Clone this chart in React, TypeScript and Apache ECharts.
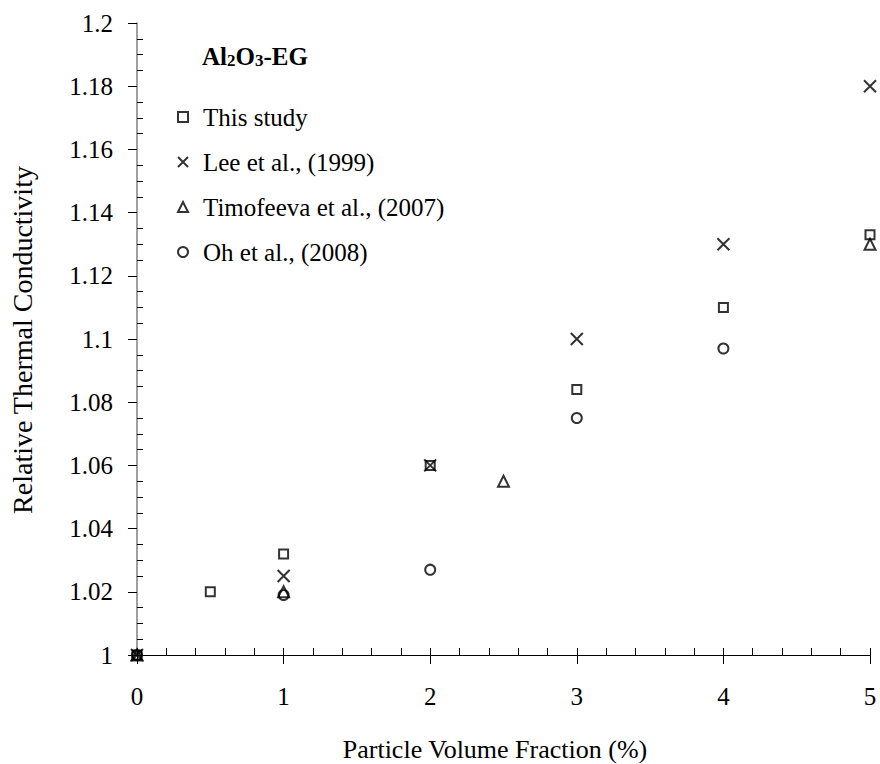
import React, { useEffect, useRef } from "react";
import * as echarts from "echarts";

const FONT = "Liberation Serif, serif";

const thisStudy: [number, number][] = [[0, 1], [0.5, 1.02], [1, 1.032], [2, 1.06], [3, 1.084], [4, 1.11], [5, 1.133]];
const lee1999: [number, number][] = [[0, 1], [1, 1.025], [2, 1.06], [3, 1.1], [4, 1.13], [5, 1.18]];
const timofeeva2007: [number, number][] = [[0, 1], [1, 1.02], [2.5, 1.055], [5, 1.13]];
const oh2008: [number, number][] = [[0, 1], [1, 1.019], [2, 1.027], [3, 1.075], [4, 1.097]];

const seriesNames = ["This study", "Lee et al., (1999)", "Timofeeva et al., (2007)", "Oh et al., (2008)"];
const X_PATH = "path://M0,0L10,10M10,0L0,10";

export default function App() {
  const ref = useRef<HTMLDivElement>(null);
  useEffect(() => {
    if (!ref.current) return;
    const chart = echarts.init(ref.current, undefined, { renderer: "svg" });
    const markerStyle = { color: "rgba(0,0,0,0)", borderColor: "#000", borderWidth: 2 };
    chart.setOption({
      animation: false,
      backgroundColor: "#fff",
      textStyle: { fontFamily: FONT },
      grid: { left: 137, right: 10, top: 23, bottom: 109 },
      title: {
        left: 197,
        top: 38,
        text: "{b|Al}{s|2}{b|O}{s|3}{b|-EG}",
        textStyle: {
          rich: {
            b: { fontFamily: FONT, fontWeight: "bold", fontSize: 25, color: "#000", lineHeight: 26, verticalAlign: "bottom" },
            s: { fontFamily: FONT, fontWeight: "bold", fontSize: 17, color: "#000", lineHeight: 12, verticalAlign: "bottom" },
          },
        },
      },
      legend: {
        orient: "vertical",
        left: 172,
        top: 99,
        itemWidth: 10,
        itemHeight: 10,
        itemGap: 19,
        data: [
          { name: seriesNames[0], icon: "rect" },
          { name: seriesNames[1], icon: X_PATH },
          { name: seriesNames[2], icon: "triangle" },
          { name: seriesNames[3], icon: "circle" },
        ],
        textStyle: { fontFamily: FONT, fontSize: 25, color: "#000", lineHeight: 26, padding: [0, 0, 0, 10] },
      },
      xAxis: [
        {
          type: "value", min: 0, max: 5, interval: 1, position: "bottom",
          axisLine: { show: true, onZero: false, lineStyle: { color: "#000", width: 1 } },
          axisTick: { show: true, inside: false, length: 9, lineStyle: { color: "#000" } },
          minorTick: { show: false },
          splitLine: { show: false },
          axisLabel: { margin: 29, fontFamily: FONT, fontSize: 25, color: "#000" },
        },
        {
          type: "value", min: 0, max: 5, interval: 1, position: "bottom",
          axisLine: { show: false, onZero: false },
          axisTick: { show: true, inside: true, length: 7, lineStyle: { color: "#000" } },
          minorTick: { show: true, splitNumber: 5, length: 7, lineStyle: { color: "#000" } },
          splitLine: { show: false },
          axisLabel: { show: false },
        },
      ],
      yAxis: [
        {
          type: "value", min: 1, max: 1.2, interval: 0.02, position: "left",
          axisLine: { show: true, onZero: false, lineStyle: { color: "#808080", width: 1.5 } },
          axisTick: { show: true, inside: false, length: 9, lineStyle: { color: "#000" } },
          minorTick: { show: false },
          splitLine: { show: false },
          axisLabel: {
            margin: 24, fontFamily: FONT, fontSize: 25, color: "#000",
            formatter: (v: number) => String(+v.toFixed(2)),
          },
        },
        {
          type: "value", min: 1, max: 1.2, interval: 0.02, position: "left",
          axisLine: { show: false, onZero: false },
          axisTick: { show: false, inside: true, length: 6 },
          minorTick: { show: true, splitNumber: 4, length: 6, lineStyle: { color: "#000" } },
          splitLine: { show: false },
          axisLabel: { show: false },
        },
      ],
      graphic: [
        {
          type: "text", x: 495, y: 749,
          style: { text: "Particle Volume Fraction (%)", fontFamily: FONT, fontSize: 26, fill: "#000", align: "center", verticalAlign: "middle" },
        },
        {
          type: "text", x: 22, y: 340, rotation: Math.PI / 2,
          style: { text: "Relative Thermal Conductivity", fontFamily: FONT, fontSize: 28, fill: "#000", align: "center", verticalAlign: "middle" },
        },
      ],
      series: [
        { name: seriesNames[0], type: "scatter", symbol: "rect", symbolSize: 9, data: thisStudy, itemStyle: markerStyle },
        { name: seriesNames[1], type: "scatter", symbol: X_PATH, symbolSize: 12, data: lee1999, itemStyle: markerStyle },
        { name: seriesNames[2], type: "scatter", symbol: "triangle", symbolSize: 11, data: timofeeva2007, itemStyle: markerStyle },
        { name: seriesNames[3], type: "scatter", symbol: "circle", symbolSize: 10, data: oh2008, itemStyle: markerStyle },
      ],
    });
    return () => chart.dispose();
  }, []);
  return <div ref={ref} style={{ position: "fixed", left: 0, top: 0, width: 880, height: 764 }} />;
}
